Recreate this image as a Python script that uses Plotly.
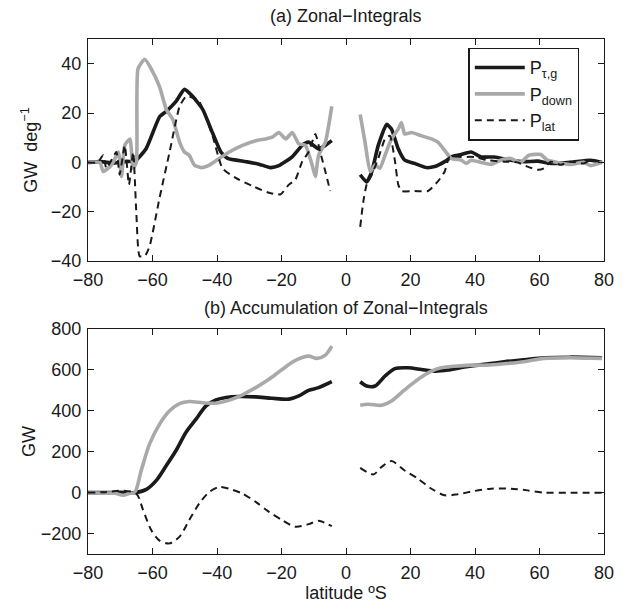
import plotly.graph_objects as go

# ---------------- Panel (a): zonal integrals ----------------
# left segment (southern latitudes)
a_tau_x_L = [-80, -76, -72, -68, -65.5, -62, -57.8, -55.7, -52.7, -50.1, -47.5, -44.4, -41.4, -38.8, -36.7,
             -31, -27, -23.4, -20.8, -16.7, -13.6, -11.6, -8.5, -6.4, -4.4]
a_tau_y_L = [0, 0.3, -0.3, 0.4, 0.5, 5.5, 18.5, 20.7, 24.7, 29.6, 26.7, 21.4, 12, 4.2, 1.6,
             0.3, -0.7, -2.1, -1.3, 2.2, 6.9, 8.2, 5.5, 6.9, 8.8]
a_down_x_L = [-80, -76.3, -75.3, -73.2, -72.2, -70.6, -69.6, -68.6, -67, -66, -65, -64.5, -62.4, -60.4, -57.8,
              -55.7, -53.7, -51.6, -50.1, -48.6, -47, -44.9, -42.4, -39.3, -36.2, -32.1, -28, -24.9, -22.9,
              -20.8, -18.7, -16.7, -14.6, -12.6, -10.5, -9.5, -8.5, -6.4, -4.4]
a_down_y_L = [0, 0, -3.7, -1.7, 0, 4.2, -5.7, 6.9, 9.5, -2.4, 0, 37.9, 41.8, 37.9, 30.6,
              21.4, 17.4, 8.2, 4.2, 2.9, -1.1, -2.1, -1.1, 1.6, 4.2, 6.9, 8.8, 9.5, 10.2,
              12.1, 9.5, 12.1, 7.5, 6.9, -1.1, -5.7, 2.9, 8.2, 22.7]
a_lat_x_L = [-80, -77, -75.3, -74.3, -71.2, -70.2, -68.6, -67.3, -66, -65, -64, -62.4, -60.9, -57.8, -54.7,
             -51.6, -49.6, -47, -45.5, -41.4, -38.3, -34.2, -29, -23.9, -20.3, -17.7, -15.7, -13.6, -11.6,
             -9.5, -8, -6.4, -4.9]
a_lat_y_L = [0, 0, 2.9, -2.4, 4.2, -5, 6.9, -9, 4.2, -20.9, -38, -38, -34, -14.3, 4.2,
             22.7, 26.7, 26, 24.7, 10.8, -2.4, -6.3, -9.6, -12.3, -12.9, -9, -7, 0.3, 4.2,
             11.5, 4.2, -3.7, -11.6]
# right segment (northern latitudes)
a_tau_x_R = [4.4, 6.4, 8, 10, 12.6, 14.1, 16.2, 18.2, 21.3, 24.9, 27.5, 30.6, 33.1, 35.7, 38.8, 41.9,
             46, 51.1, 55.2, 59.4, 63.5, 69.6, 75.8, 79.4]
a_tau_y_R = [-5, -7.9, -3.7, 6.9, 15.4, 13.5, 5.5, 0.9, -0.4, -2.1, -1.7, 0.3, 2.5, 3.2, 4.2, 2.2,
             2.2, 0.9, 0.3, 0.5, -0.4, 0, 0.9, 0]
a_down_x_R = [4.4, 5.9, 7.5, 9, 10.5, 12.1, 14.1, 16.2, 17.2, 18.2, 20.3, 23.4, 26.5, 28.5, 30.6, 32.6,
              35.7, 37.3, 38.8, 41.9, 45, 48, 51.1, 54.1, 56.7, 60.4, 62.4, 65.5, 69.6, 73.7, 75.8, 79.4]
a_down_y_R = [19.4, 8.2, -3.7, -1.1, -2.4, 2.9, 9.5, 13.5, 16.1, 11.5, 12.1, 10.8, 9.5, 8.2, 4.9, 1.6,
              0.9, -0.4, 0.9, 0, -0.8, 0.9, 1.6, 0, 2.9, 3.2, 0.9, 0, -0.8, 0, -1.3, 0]
a_lat_x_R = [4.4, 5.4, 6.4, 8, 10, 12.1, 13.6, 15.2, 16.2, 17.2, 21.3, 25.4, 28.5, 30.6, 32.1, 35.7,
             39.8, 43.9, 49.1, 53.2, 56.3, 59.4, 61.4, 63.5, 66.5, 69.6, 73.7, 75.8, 79.4]
a_lat_y_R = [-26.1, -15.6, -9, -5, 1.6, 9.5, 10.8, 0.3, -9, -11.6, -11.6, -11.6, -7.7, -3.7, 2.2, 2.2,
             2.2, 0.9, 0.3, 0, -1.7, -3, -2.4, 0.3, -1, 0.3, -0.4, 0.9, 0]

# ---------------- Panel (b): accumulation ----------------
b_tau_x_L = [-80, -75, -70, -65.5, -61.9, -58.8, -55.7, -52.7, -49.6, -46.5, -43.4, -40.3, -37.2, -33.1,
             -28, -22.9, -17.7, -14.6, -11.6, -8.5, -4.4]
b_tau_y_L = [0, 0, 2, 0, 16, 60, 133, 206, 295, 359, 424, 453, 465, 470,
             468, 461, 457, 473, 500, 513, 542]
b_down_x_L = [-80, -75, -72, -69.1, -67, -65.5, -63.5, -60.9, -57.8, -54.7, -51.6, -48.6, -44.4, -40.3,
              -36.2, -32.1, -28, -23.9, -19.8, -15.7, -11.6, -9, -6.4, -4.4]
b_down_y_L = [0, -3, -2, -13, -3, 0, 108, 238, 335, 400, 435, 445, 439, 437,
              452, 478, 513, 554, 602, 646, 667, 656, 672, 716]
b_lat_x_L = [-80, -75, -69.1, -65, -62.9, -60.4, -57.8, -54.7, -51.6, -48.6, -45.5, -42.4, -39.3, -36.2,
             -32.1, -28, -23.9, -19.8, -15.7, -11.6, -8.5, -4.4]
b_lat_y_L = [0, 2, 10, -5, -86, -183, -235, -248, -215, -134, -53, 3, 28, 19,
             -5, -45, -94, -134, -167, -154, -138, -164]
b_tau_x_R = [4.4, 6.4, 9, 12.1, 15.2, 19.3, 23.4, 27.5, 31.6, 36.7, 42.9, 49.1, 55.2, 61.4, 69.6, 79.4]
b_tau_y_R = [542, 521, 521, 570, 606, 610, 602, 594, 599, 614, 627, 640, 649, 659, 662, 659]
b_down_x_R = [4.4, 6.9, 11, 14.1, 17.2, 20.3, 23.4, 26.5, 29.5, 33.7, 38.8, 43.9, 49.1, 55.2, 61.4, 69.6, 79.4]
b_down_y_R = [427, 432, 427, 448, 489, 529, 565, 594, 610, 618, 623, 623, 630, 640, 656, 659, 656]
b_lat_x_R = [4.4, 8.5, 11, 14.1, 18.2, 22.3, 26.5, 30.6, 34.7, 39.8, 45, 51.1, 56.3, 61.4, 69.6, 79.4]
b_lat_y_R = [121, 89, 125, 154, 108, 68, 19, -13, -8, 8, 19, 19, 11, 0, 0, 0]

series_names = ["P<sub>τ,g</sub>", "P<sub>down</sub>", "P<sub>lat</sub>"]
x_ticks = [-80, -60, -40, -20, 0, 20, 40, 60, 80]
a_y_ticks = [-40, -20, 0, 20, 40]
b_y_ticks = [-200, 0, 200, 400, 600, 800]


def join(xl, yl, xr, yr):
    return list(xl) + [None] + list(xr), list(yl) + [None] + list(yr)


styles = [dict(color="#1a1a1a", width=3.6),
          dict(color="#a9a9a9", width=3.6),
          dict(color="#1a1a1a", width=2, dash="7px,5px")]

fig = go.Figure()
panel_a = [(a_tau_x_L, a_tau_y_L, a_tau_x_R, a_tau_y_R),
           (a_down_x_L, a_down_y_L, a_down_x_R, a_down_y_R),
           (a_lat_x_L, a_lat_y_L, a_lat_x_R, a_lat_y_R)]
panel_b = [(b_tau_x_L, b_tau_y_L, b_tau_x_R, b_tau_y_R),
           (b_down_x_L, b_down_y_L, b_down_x_R, b_down_y_R),
           (b_lat_x_L, b_lat_y_L, b_lat_x_R, b_lat_y_R)]

for i, d in enumerate(panel_a):
    x, y = join(*d)
    fig.add_trace(go.Scatter(x=x, y=y, mode="lines", name=series_names[i],
                             line=dict(shape="spline", smoothing=0.5, **styles[i]),
                             xaxis="x", yaxis="y", connectgaps=False, showlegend=True))
for i, d in enumerate(panel_b):
    x, y = join(*d)
    fig.add_trace(go.Scatter(x=x, y=y, mode="lines", name=series_names[i],
                             line=dict(shape="spline", smoothing=0.8, **styles[i]),
                             xaxis="x2", yaxis="y2", connectgaps=False, showlegend=False))

FAM = "Liberation Sans, Arial, sans-serif"
font = dict(family=FAM, size=18, color="#1a1a1a")
axis_common = dict(showline=True, linecolor="#1a1a1a", linewidth=1.4, mirror="ticks",
                   ticks="inside", ticklen=6, tickcolor="#1a1a1a", showgrid=False, zeroline=False,
                   tickfont=font, ticklabelstandoff=2)

fig.update_layout(
    width=626, height=609,
    margin=dict(l=88, r=21, t=39, b=46),
    paper_bgcolor="white", plot_bgcolor="white",
    font=font,
    xaxis=dict(domain=[0, 1], range=[-80, 80], tickvals=x_ticks, anchor="y", **axis_common),
    yaxis=dict(domain=[0.5687, 1], range=[-40, 50], tickvals=a_y_ticks, anchor="x",
               title=dict(text="GW  deg<sup>−1</sup>", font=font, standoff=8), **axis_common),
    xaxis2=dict(domain=[0, 1], range=[-80, 80], tickvals=x_ticks, anchor="y2",
                title=dict(text="latitude ºS", font=font, standoff=2), **axis_common),
    yaxis2=dict(domain=[0, 0.437], range=[-300, 800], tickvals=b_y_ticks, anchor="x2",
                title=dict(text="GW", font=font, standoff=0), **axis_common),
    legend=dict(x=0.737, y=0.983, xanchor="left", yanchor="top",
                bordercolor="#1a1a1a", borderwidth=1.5, bgcolor="white",
                font=dict(family=FAM, size=18, color="#1a1a1a"),
                tracegroupgap=0, itemwidth=50),
    annotations=[
        dict(text="(a) Zonal−Integrals", x=0.5, y=1.0, xref="paper", yref="paper",
             xanchor="center", yanchor="bottom", yshift=11, showarrow=False, font=font),
        dict(text="(b) Accumulation of Zonal−Integrals", x=0.5, y=0.437, xref="paper", yref="paper",
             xanchor="center", yanchor="bottom", yshift=9, showarrow=False, font=font),
    ],
)

fig.write_html("out.html", config={"displayModeBar": False},
               post_script="document.body.style.margin='0';document.body.style.overflow='hidden';")
